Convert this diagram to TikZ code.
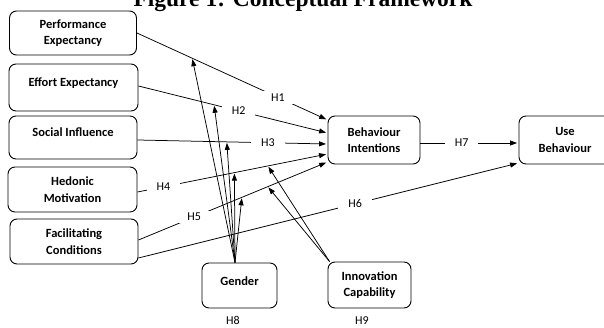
\documentclass[tikz,border=0pt]{standalone}
\usepackage{fontspec}
\setmainfont{Carlito}
\newfontfamily\titlefont{Liberation Serif}
\usetikzlibrary{arrows.meta,calc}
\begin{document}
\begin{tikzpicture}[x=1pt,y=-1pt,
  box/.style={draw, line width=0.9pt, rounded corners=7pt, align=center,
    font=\fontsize{12.5}{16.5}\selectfont\bfseries, inner sep=0pt},
  oneline/.style={text height=9pt, text depth=10pt},
  link/.style={line width=0.75pt, -{Triangle[length=7pt,width=5pt]}, shorten >=1.5pt},
  modarr/.style={line width=0.75pt, -{Triangle[length=7pt,width=5pt]}, shorten >=1pt},
  hlab/.style={fill=white, inner xsep=10pt, inner ysep=2.5pt, font=\fontsize{12}{14}\selectfont},
  plain/.style={font=\fontsize{12}{14}\selectfont, inner sep=1pt}]
\useasboundingbox (0,0) rectangle (604,328);
\node[font=\titlefont\bfseries\fontsize{23.5}{26}\selectfont, anchor=base] (title) at (303,6.5) {Figure 1: Conceptual Framework};

\node[box, minimum width=127pt, minimum height=44pt] (pe) at (73,33) {Performance\\Expectancy};
\node[box, oneline, minimum width=129pt, minimum height=47pt] (ee) at (73.5,87.5) {Effort Expectancy};
\node[box, oneline, minimum width=128pt, minimum height=43pt] (si) at (73,137.5) {Social Influence};
\node[box, minimum width=129pt, minimum height=45pt] (hm) at (72.5,189.5) {Hedonic\\Motivation};
\node[box, minimum width=128pt, minimum height=45pt] (fc) at (74,241.5) {Facilitating\\Conditions};
\node[box, minimum width=92pt, minimum height=48pt] (bi) at (374,140) {Behaviour\\Intentions};
\node[box, minimum width=92pt, minimum height=48pt] (ub) at (565,140) {Use\\Behaviour};
\node[box, oneline, minimum width=75pt, minimum height=45pt] (gd) at (239.5,285.5) {Gender};
\node[box, minimum width=83pt, minimum height=46pt] (ic) at (369.5,285) {Innovation\\Capability};
\node[plain] (h8) at (233,320.5) {H8};
\node[plain] (h9) at (362,320.5) {H9};

\draw[link] (pe.east) -- coordinate[pos=0.29] (p1) node[hlab, pos=0.74] {H1} ([yshift=20pt]bi.west);
\draw[link] ([yshift=1.5pt]ee.east) -- coordinate[pos=0.40] (p2) node[hlab, pos=0.53] {H2} ([yshift=7pt]bi.west);
\draw[link] ([yshift=-2.5pt]si.east) -- coordinate[pos=0.47] (p3) node[hlab, pos=0.686] {H3} ([yshift=-4pt]bi.west);
\draw[link] ([yshift=-2.5pt]hm.east) -- coordinate[pos=0.51] (p4) coordinate[pos=0.686] (q4) node[hlab, pos=0.136] {H4} ([yshift=-14pt]bi.west);
\draw[link] ([yshift=1.5pt]fc.east) -- coordinate[pos=0.547] (p5) coordinate[pos=0.684] (q5) node[hlab, pos=0.295] {H5} ([yshift=-22pt]bi.west);
\draw[link] ([yshift=-16.5pt]fc.east) -- node[hlab, pos=0.57] {H6} ([yshift=-23pt]ub.west);
\draw[link] ([yshift=-3pt]bi.east) -- node[hlab, pos=0.42] {H7} ([yshift=-3pt]ub.west);

\coordinate (gs) at ([xshift=-4.5pt]gd.north);
\foreach \t in {p1,p2,p3,p4,p5} \draw[modarr] (gs) -- (\t);
\coordinate (is) at ([xshift=2pt]ic.north west);
\foreach \t in {q4,q5} \draw[modarr] (is) -- (\t);
\end{tikzpicture}
\end{document}
